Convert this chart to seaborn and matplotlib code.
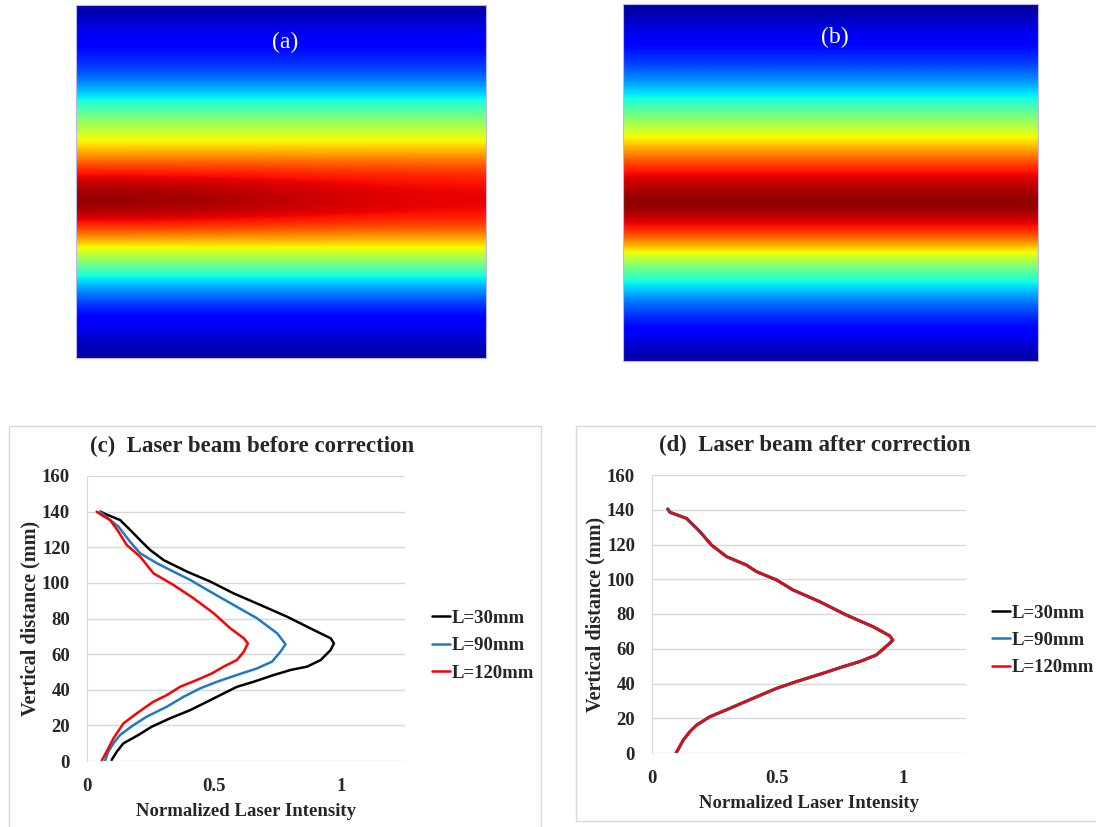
import matplotlib
matplotlib.use("Agg")
import matplotlib.pyplot as plt
import numpy as np
import pandas as pd
import seaborn as sns

beam_a_left = [0.04, 0.09, 0.12, 0.15, 0.20, 0.28, 0.38, 0.49, 0.58, 0.67, 0.79, 0.90,
               0.97, 0.99, 0.93, 0.80, 0.64, 0.51, 0.36, 0.26, 0.16, 0.11, 0.08, 0.04]
beam_a_right = [0.04, 0.09, 0.12, 0.15, 0.20, 0.28, 0.38, 0.49, 0.58, 0.67, 0.78, 0.87,
                0.90, 0.91, 0.88, 0.78, 0.64, 0.51, 0.36, 0.26, 0.16, 0.11, 0.08, 0.04]
beam_b = [0.03, 0.08, 0.12, 0.16, 0.22, 0.30, 0.39, 0.50, 0.60, 0.70, 0.82, 0.91,
          0.96, 1.00, 0.93, 0.84, 0.67, 0.52, 0.39, 0.29, 0.20, 0.14, 0.09, 0.04]

# (c) before correction: vertical distance (mm) and normalized intensity
d_30 = [140, 138.7, 135.3, 129.7, 123.1, 118.5, 112.8, 106.3, 100.7, 94.1, 87.6, 81, 73.5,
        68.9, 66.1, 62.3, 56.7, 53, 51.1, 48.3, 44.5, 41.7, 38.9, 34.2, 28.6, 24, 19.3,
        14.6, 9.9, 5.2, 0.6]
i_30 = [0.055, 0.072, 0.131, 0.171, 0.216, 0.249, 0.302, 0.394, 0.486, 0.577, 0.682, 0.787,
        0.892, 0.958, 0.971, 0.958, 0.919, 0.866, 0.801, 0.735, 0.656, 0.591, 0.551, 0.486,
        0.407, 0.328, 0.256, 0.203, 0.144, 0.118, 0.098]
d_90 = [140, 136, 131.5, 123, 116.6, 111, 106.3, 101.6, 95, 87.6, 80.1, 71.7, 65.5, 61.4,
        55.8, 52, 48.3, 44.5, 40.8, 36.1, 30.5, 24.9, 20.2, 14.6, 9.9, 5.2, 0.2]
i_90 = [0.052, 0.085, 0.125, 0.171, 0.21, 0.276, 0.341, 0.407, 0.486, 0.577, 0.669, 0.748,
        0.781, 0.761, 0.728, 0.669, 0.59, 0.512, 0.446, 0.381, 0.315, 0.236, 0.184, 0.131,
        0.105, 0.085, 0.072]
d_120 = [140, 138, 135.3, 128.7, 121.3, 114.7, 105.4, 98.8, 91.3, 82.9, 74.5, 68.9, 66,
         61.4, 56.7, 53, 49.2, 45.5, 41.7, 37, 33.3, 26.8, 21.1, 12.7, 7.1, 0.2]
i_120 = [0.039, 0.059, 0.092, 0.125, 0.157, 0.21, 0.262, 0.341, 0.42, 0.499, 0.564, 0.617,
         0.633, 0.617, 0.59, 0.538, 0.492, 0.433, 0.367, 0.315, 0.262, 0.197, 0.144, 0.105,
         0.085, 0.059]

# (d) after correction: the three lengths lie on top of each other
d_after = [140.4, 138.5, 135, 127.4, 119.7, 113, 108.2, 104.4, 99.6, 93.8, 87.1, 79.4, 72.7,
           67.5, 65, 63.1, 56.4, 52.6, 49.7, 45.9, 41.1, 37.2, 31.5, 25.7, 20.9, 16.1, 12.3,
           7.5, 0]
i_after = [0.064, 0.073, 0.139, 0.192, 0.238, 0.298, 0.377, 0.417, 0.497, 0.563, 0.669, 0.775,
           0.881, 0.947, 0.96, 0.947, 0.894, 0.828, 0.762, 0.682, 0.576, 0.497, 0.404, 0.311,
           0.232, 0.179, 0.152, 0.126, 0.097]

labels = ["L=30mm", "L=90mm", "L=120mm"]
colors = ["#000000", "#1f78c8", "#ff0000"]

sns.set_style("white")
plt.rcParams["font.family"] = ["Liberation Serif", "DejaVu Serif"]

fig = plt.figure(figsize=(10.96, 8.27), dpi=100)

# light frames around the two lower panels
fig.add_artist(plt.Rectangle((9 / 1096, -0.01), (541 - 9) / 1096, (827 - 426) / 827 + 0.01,
                             transform=fig.transFigure, fill=False, ec="#d9d9d9", lw=1))
fig.add_artist(plt.Rectangle((576 / 1096, (827 - 821) / 827), 0.5, (821 - 426) / 827,
                             transform=fig.transFigure, fill=False, ec="#d9d9d9", lw=1))


def beam_image(pos, grid, tag, ty):
    ax = fig.add_axes(pos)
    ax.imshow(grid, cmap="jet", vmin=0, vmax=1, aspect="auto", interpolation="bicubic")
    ax.set_xticks([])
    ax.set_yticks([])
    for s in ax.spines.values():
        s.set_color("#b8b8e8")
        s.set_linewidth(0.8)
    ax.text(0.51, ty, tag, transform=ax.transAxes, color="white", fontsize=17,
            ha="center", va="center")


beam_image([76 / 1096, (827 - 358) / 827, 410 / 1096, 353 / 827],
           np.column_stack([beam_a_left, beam_a_right]), "(a)", 0.895)
beam_image([623 / 1096, (827 - 361) / 827, 415 / 1096, 357 / 827],
           np.column_stack([beam_b, beam_b]), "(b)", 0.905)


def profile_panel(pos, curves, title, title_x, widths):
    ax = fig.add_axes(pos)
    rows = []
    for lab, (d, v) in zip(labels, curves):
        rows.append(pd.DataFrame({"distance": d, "intensity": v, "L": lab}))
    df = pd.concat(rows, ignore_index=True)
    sns.lineplot(data=df, x="intensity", y="distance", hue="L", hue_order=labels,
                 palette=colors, sort=False, estimator=None, linewidth=1.8, ax=ax)
    for line, w in zip(ax.get_lines(), widths):
        line.set_linewidth(w)
    ax.set_xlim(0, 1.25)
    ax.set_ylim(0, 160)
    ax.set_xticks([0, 0.5, 1])
    ax.set_xticklabels(["0", "0.5", "1"])
    ax.set_yticks(range(0, 161, 20))
    ax.yaxis.grid(True, color="#d9d9d9", lw=1)
    ax.xaxis.grid(False)
    for s in ["top", "right", "bottom"]:
        ax.spines[s].set_visible(False)
    ax.spines["left"].set_color("#d9d9d9")
    ax.tick_params(length=0, labelsize=13.5, pad=12)
    for t in ax.get_xticklabels() + ax.get_yticklabels():
        t.set_fontweight("bold")
    ax.set_xlabel("Normalized Laser Intensity", fontsize=13.5, fontweight="bold", labelpad=6)
    ax.set_ylabel("Vertical distance (mm)", fontsize=14.5, fontweight="bold", labelpad=1)
    ax.text(title_x, 1.105, title, transform=ax.transAxes, fontsize=16.5,
            fontweight="bold", ha="center", va="center")
    h, l = ax.get_legend_handles_labels()
    ax.legend(h, l, loc="center left", bbox_to_anchor=(1.085, 0.405), frameon=False,
              handlelength=0.95, handletextpad=0.1, labelspacing=0.55, borderpad=0,
              borderaxespad=0, prop={"weight": "bold", "size": 13.5})
    return ax


profile_panel([86.7 / 1096, (827 - 761) / 827, 318.3 / 1096, 285 / 827],
              [(d_30, i_30), (d_90, i_90), (d_120, i_120)],
              "(c)  Laser beam before correction", 0.52, [1.8, 1.8, 1.8])
profile_panel([651.7 / 1096, (827 - 753) / 827, 314 / 1096, 278 / 827],
              [(d_after, i_after), (d_after, i_after), (d_after, i_after)],
              "(d)  Laser beam after correction", 0.52, [2.2, 2.0, 1.6])

fig.savefig("out.png", dpi=100)
